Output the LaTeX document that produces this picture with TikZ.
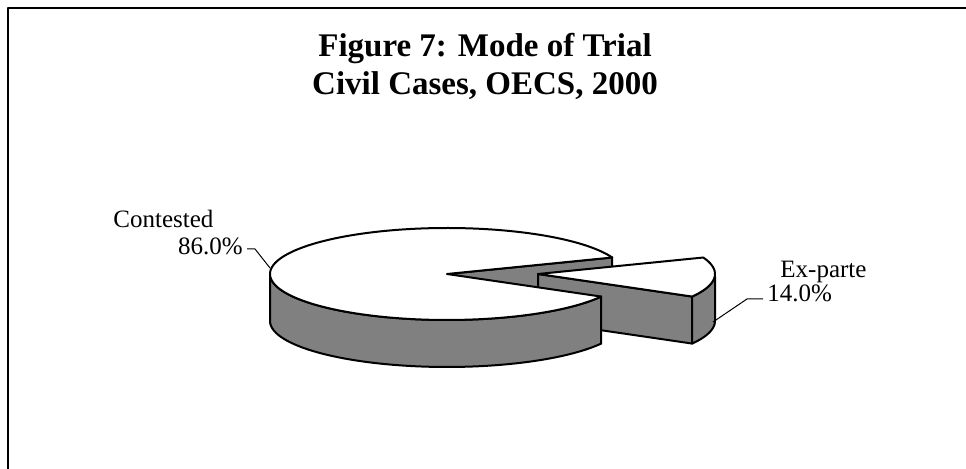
\documentclass[tikz,border=0pt]{standalone}
\usepackage{fontspec}
\setmainfont{Liberation Serif}
\usetikzlibrary{calc,positioning}

\begin{document}
\begin{tikzpicture}
  [
  x=0.5pt, y=-0.5pt, line join=round,
  sideface/.style={draw=black, line width=1pt, fill=black!50},
  topface/.style={draw=black, line width=1pt, fill=white},
  leader/.style={draw=black, line width=0.5pt},
  slicelabel/.style={font=\fontsize{12.5}{15}\selectfont, inner sep=2pt},
  charttitle/.style={font=\fontsize{16.5}{19}\selectfont\bfseries, align=center}
  ]

\useasboundingbox (0,0) rectangle (966,469);

% chart frame, cut at the right and bottom
\begin{scope}
  \clip (0,0) rectangle (966,469);
  \draw[line width=0.6pt] (8,8) rectangle (990,490);
\end{scope}

\node[charttitle, anchor=base] (title) at (485,95) {Figure 7: Mode of Trial\\Civil Cases, OECS, 2000};

% cut face of the big slice, seen through the gap
\draw[sideface] (447,274) -- ({447+177*cos(21)},{274-46*sin(21)}) -- ++(0,47) -- (447,321) -- cycle;

% pulled-out slice: Ex-parte
\draw[sideface] (538,274) -- ({538+177*cos(-29.4)},{274-46*sin(-29.4)}) -- ++(0,47) -- (538,321) -- cycle;
\draw[sideface] plot[domain=-29.4:0, samples=20] ({538+177*cos(\x)},{274-46*sin(\x)})
  -- plot[domain=0:-29.4, samples=20] ({538+177*cos(\x)},{321-46*sin(\x)}) -- cycle;
\draw[topface] (538,274) -- plot[domain=-29.4:21, samples=30] ({538+177*cos(\x)},{274-46*sin(\x)}) -- cycle;

% big slice: Contested
\draw[sideface] plot[domain=180:330.6, samples=80] ({447+177*cos(\x)},{274-46*sin(\x)})
  -- plot[domain=330.6:180, samples=80] ({447+177*cos(\x)},{321-46*sin(\x)}) -- cycle;
\draw[topface] (447,274) -- plot[domain=21:330.6, samples=150] ({447+177*cos(\x)},{274-46*sin(\x)}) -- cycle;

% labels
\node[slicelabel, anchor=base west] (contested) at (109,228) {Contested};
\node[slicelabel, anchor=base east] (contestedval) at (247,255) {86.0\%};
\node[slicelabel, anchor=base west] (exparte) at (776,278) {Ex-parte};
\node[slicelabel, anchor=base west] (exparteval) at (763,302) {14.0\%};

\coordinate (cpin) at (270,268);
\coordinate (ckink) at (255,249);
\coordinate (epin) at (713,322);
\coordinate (ekink) at (747,299);

\draw[leader] (ckink -| contestedval.east) -- (ckink) -- (cpin);
\draw[leader] (epin) -- (ekink) -- (ekink -| exparteval.west);

\end{tikzpicture}
\end{document}
